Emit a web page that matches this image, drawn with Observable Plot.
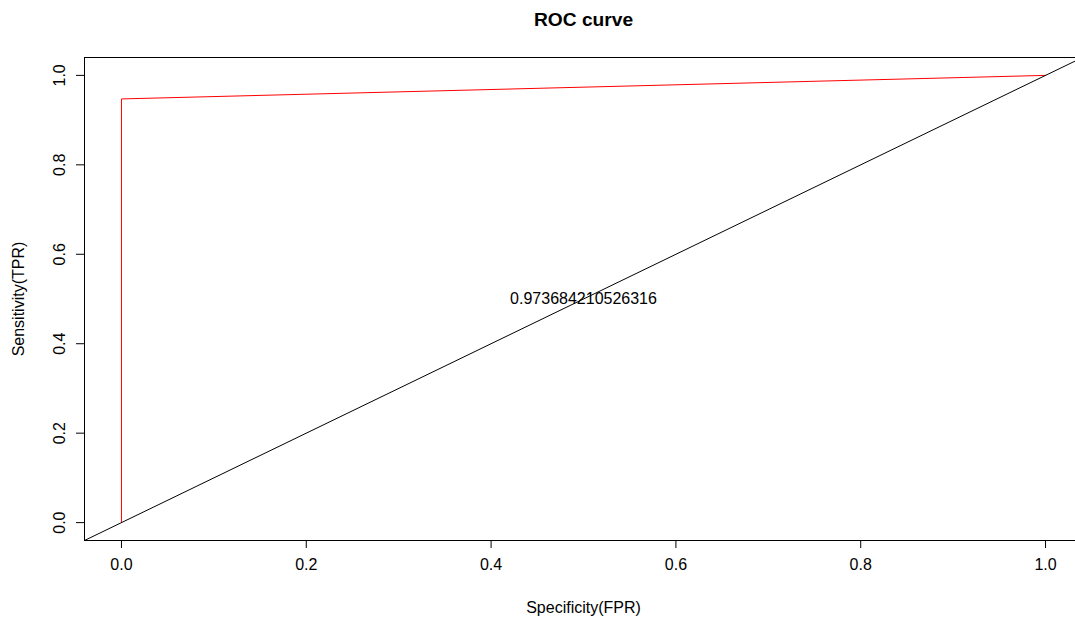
<!DOCTYPE html>
<html>
<head>
<meta charset="utf-8">
<script src="https://cdn.jsdelivr.net/npm/d3@7"></script>
<script src="https://cdn.jsdelivr.net/npm/@observablehq/plot@0.6"></script>
<style>
  html, body { margin: 0; padding: 0; background: #fff; overflow: hidden; }
  #chart { width: 1075px; height: 619px; overflow: hidden; }
  #chart svg { display: block; max-width: none !important; width: 1090px; height: 619px; }
</style>
</head>
<body>
<div id="chart"></div>
<script>
// ROC curve points
const fpr = [0, 0, 1];
const tpr = [0, 0.9473684210526315, 1];
// reference line y = x over the plot range
const diagX = [-0.04, 1.04];
const diagY = [-0.04, 1.04];
const aucLabel = "0.973684210526316";
const xTicks = [0, 0.2, 0.4, 0.6, 0.8, 1.0];
const yTicks = [0, 0.2, 0.4, 0.6, 0.8, 1.0];
const title = "ROC curve";
const xLabel = "Specificity(FPR)";
const yLabel = "Sensitivity(TPR)";

const roc = fpr.map((x, i) => ({x, y: tpr[i]}));
const diag = diagX.map((x, i) => ({x, y: diagY[i]}));

const fmt = d3.format(".1f");

const chart = Plot.plot({
  width: 1090,
  height: 619,
  marginLeft: 84,
  marginRight: 8,
  marginTop: 57,
  marginBottom: 79,
  style: {fontFamily: "'Liberation Sans', Arial, sans-serif", fontSize: "16px", color: "#000", background: "#fff", maxWidth: "none"},
  x: {domain: [-0.04, 1.04]},
  y: {domain: [-0.04, 1.04]},
  marks: [
    Plot.line(roc, {x: "x", y: "y", stroke: "#ff0000", strokeWidth: 1}),
    Plot.line(diag, {x: "x", y: "y", stroke: "#000", strokeWidth: 1}),
    Plot.text([aucLabel], {x: 0.5, y: 0.5, fontSize: 16, fill: "#000"}),
    Plot.frame({stroke: "#000", strokeWidth: 1}),
    Plot.axisX({ticks: xTicks, tickFormat: fmt, tickSize: 8, tickPadding: 10, label: null, fontSize: 16, stroke: "#000", fill: "#000"}),
    Plot.axisY({ticks: yTicks, tickFormat: fmt, tickSize: 8, tickPadding: 12, tickRotate: -90, label: null, fontSize: 16, stroke: "#000", fill: "#000"}),
    Plot.text([title], {frameAnchor: "top", lineAnchor: "middle", dy: -38, fontSize: 19.2, fontWeight: "bold", fill: "#000"}),
    Plot.text([xLabel], {frameAnchor: "bottom", lineAnchor: "middle", dy: 67, fontSize: 16, fill: "#000"}),
    Plot.text([yLabel], {frameAnchor: "left", textAnchor: "middle", lineAnchor: "middle", dx: -66, rotate: -90, fontSize: 16, fill: "#000"})
  ]
});
document.getElementById("chart").appendChild(chart);
</script>
</body>
</html>
